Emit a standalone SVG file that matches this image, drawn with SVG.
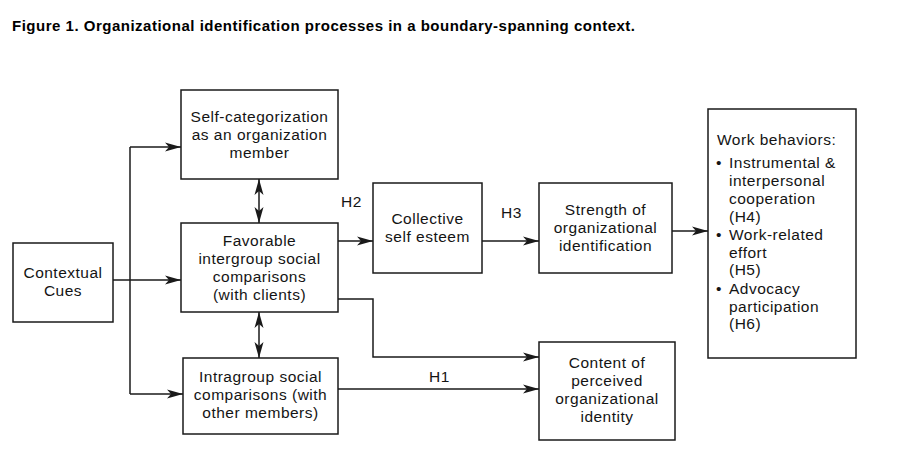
<svg xmlns="http://www.w3.org/2000/svg" width="899" height="456" viewBox="0 0 899 456">
<style>
.box{fill:#fff;stroke:#1a1a1a;stroke-width:1.5}
.t{font-family:"Liberation Sans",Arial,sans-serif;font-size:15.5px;letter-spacing:0.5px;fill:#141414}
.c{text-anchor:middle}
.ln{fill:none;stroke:#1a1a1a;stroke-width:1.5}
.title{font-family:"Liberation Sans",Arial,sans-serif;font-size:15px;font-weight:bold;fill:#000}
</style>
<defs>
<marker id="ah" viewBox="0 0 16 10" refX="16" refY="5" markerWidth="16" markerHeight="10" markerUnits="userSpaceOnUse" orient="auto-start-reverse">
<path d="M0,0.5 L16,5 L0,9.5 L4,5 z" fill="#1a1a1a"/>
</marker>
</defs>
<rect width="899" height="456" fill="#fff"/>
<text class="title" x="12" y="31" textLength="623" lengthAdjust="spacing">Figure 1. Organizational identification processes in a boundary-spanning context.</text>

<g id="connectors">
<path class="ln" d="M130,147 V394"/>
<path class="ln" d="M130,147 H181" marker-end="url(#ah)"/>
<path class="ln" d="M113,280 H181" marker-end="url(#ah)"/>
<path class="ln" d="M130,394 H183" marker-end="url(#ah)"/>
<path class="ln" d="M259,179 V223" marker-start="url(#ah)" marker-end="url(#ah)"/>
<path class="ln" d="M259,312 V358" marker-start="url(#ah)" marker-end="url(#ah)"/>
<path class="ln" d="M338,241 H373" marker-end="url(#ah)"/>
<path class="ln" d="M482,241 H539" marker-end="url(#ah)"/>
<path class="ln" d="M672,231 H708" marker-end="url(#ah)"/>
<path class="ln" d="M338,299 H373 V357 H539" marker-end="url(#ah)"/>
<path class="ln" d="M338,389 H539" marker-end="url(#ah)"/>
<text class="t" x="341" y="207">H2</text>
<text class="t" x="501" y="218">H3</text>
<text class="t" x="429" y="382">H1</text>
</g>

<g id="self-categorization">
<rect class="box" x="181" y="90" width="157" height="89"/>
<text class="t c" x="259.5" y="122">Self-categorization</text>
<text class="t c" x="259.5" y="140">as an organization</text>
<text class="t c" x="259.5" y="158">member</text>
</g>

<g id="favorable">
<rect class="box" x="181" y="223" width="157" height="89"/>
<text class="t c" x="259.5" y="246">Favorable</text>
<text class="t c" x="259.5" y="264">intergroup social</text>
<text class="t c" x="259.5" y="282">comparisons</text>
<text class="t c" x="259.5" y="300">(with clients)</text>
</g>

<g id="contextual-cues">
<rect class="box" x="13" y="243" width="100" height="79"/>
<text class="t c" x="63" y="278">Contextual</text>
<text class="t c" x="63" y="296">Cues</text>
</g>

<g id="intragroup">
<rect class="box" x="183" y="358" width="155" height="76"/>
<text class="t c" x="260.5" y="382">Intragroup social</text>
<text class="t c" x="260.5" y="400">comparisons (with</text>
<text class="t c" x="260.5" y="418">other members)</text>
</g>

<g id="collective-self-esteem">
<rect class="box" x="373" y="183" width="109" height="90"/>
<text class="t c" x="427.5" y="224">Collective</text>
<text class="t c" x="427.5" y="242">self esteem</text>
</g>

<g id="strength">
<rect class="box" x="539" y="183" width="133" height="90"/>
<text class="t c" x="605.5" y="215">Strength of</text>
<text class="t c" x="605.5" y="233">organizational</text>
<text class="t c" x="605.5" y="251">identification</text>
</g>

<g id="content">
<rect class="box" x="539" y="342" width="136" height="98"/>
<text class="t c" x="607" y="368">Content of</text>
<text class="t c" x="607" y="386">perceived</text>
<text class="t c" x="607" y="404">organizational</text>
<text class="t c" x="607" y="422">identity</text>
</g>

<g id="work-behaviors">
<rect class="box" x="708" y="109" width="148" height="249"/>
<text class="t" x="717" y="145">Work behaviors:</text>
<text class="t" x="716" y="168">•</text>
<text class="t" x="729" y="168">Instrumental &amp;</text>
<text class="t" x="729" y="186">interpersonal</text>
<text class="t" x="729" y="204">cooperation</text>
<text class="t" x="729" y="222">(H4)</text>
<text class="t" x="716" y="240">•</text>
<text class="t" x="729" y="240">Work-related</text>
<text class="t" x="729" y="258">effort</text>
<text class="t" x="729" y="275">(H5)</text>
<text class="t" x="716" y="294">•</text>
<text class="t" x="729" y="294">Advocacy</text>
<text class="t" x="729" y="312">participation</text>
<text class="t" x="729" y="329">(H6)</text>
</g>
</svg>
